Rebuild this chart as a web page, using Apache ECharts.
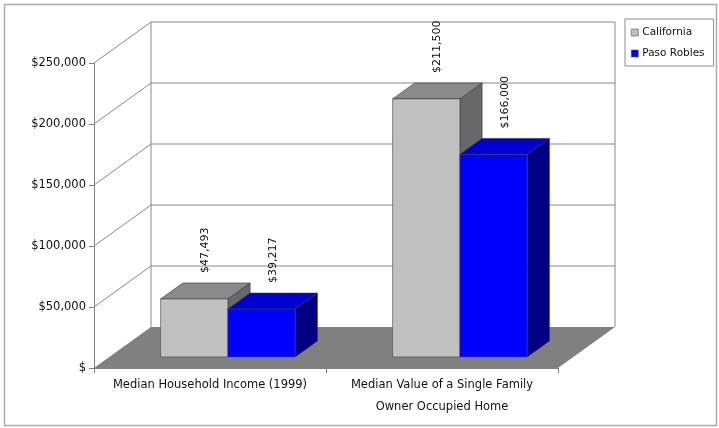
<!DOCTYPE html>
<html>
<head>
<meta charset="utf-8">
<script src="https://cdn.jsdelivr.net/npm/echarts@6/dist/echarts.min.js"></script>
<style>
  html, body { margin: 0; padding: 0; background: #fff; }
  #chart { width: 719px; height: 428px; }
</style>
</head>
<body>
<div id="chart"></div>
<script>
// Categories, series and tick values
const categories = ['Median Household Income (1999)', 'Median Value of a Single Family\nOwner Occupied Home'];
const seriesNames = ['California', 'Paso Robles'];
const california = [47493, 211500];
const pasoRobles = [39217, 166000];
const yTicks = [0, 50000, 100000, 150000, 200000, 250000];

const FONT = 'DejaVu Sans';
// depth of the 3D box (pixels) and the slice of it the columns occupy
const DEPTH = [57, -41];
const BAR_FRONT = 0.27, BAR_BACK = 0.66;
const BAR_FRAC = 0.29;
const BAR_NUDGE = 2.5;

const palette = {
  California: { front: '#c0c0c0', top: '#8a8a8a', side: '#686868' },
  'Paso Robles': { front: '#0000ff', top: '#0000d4', side: '#000080' }
};

function money(v) {
  return v === 0 ? '$' : '$' + v.toLocaleString('en-US');
}

function frameItem(params, api) {
  const cs = params.coordSys;
  const x0 = cs.x, x1 = cs.x + cs.width;
  const y0 = api.coord([0, 0])[1];
  const yTop = api.coord([0, yTicks[yTicks.length - 1]])[1];
  const dx = DEPTH[0], dy = DEPTH[1];
  const line = { stroke: '#888888', lineWidth: 1 };
  const children = [{
    type: 'polygon',
    shape: { points: [[x0, y0], [x1, y0], [x1 + dx, y0 + dy], [x0 + dx, y0 + dy]] },
    style: { fill: '#808080' }
  }];
  yTicks.forEach(t => {
    if (t === 0) return;
    const y = api.coord([0, t])[1];
    children.push({ type: 'line', shape: { x1: x0 + dx, y1: y + dy, x2: x1 + dx, y2: y + dy }, style: line });
    children.push({ type: 'line', shape: { x1: x0, y1: y, x2: x0 + dx, y2: y + dy }, style: line });
  });
  children.push({ type: 'line', shape: { x1: x0 + dx, y1: yTop + dy, x2: x0 + dx, y2: y0 + dy }, style: line });
  children.push({ type: 'line', shape: { x1: x1 + dx, y1: yTop + dy, x2: x1 + dx, y2: y0 + dy }, style: line });
  return { type: 'group', children };
}

function makeBarRenderer(name, side) {
  const col = palette[name];
  return function (params, api) {
    const cat = api.value(0), v = api.value(1);
    const base = api.coord([cat, 0]);
    const top = api.coord([cat, v]);
    const w = api.size([1, 0])[0] * BAR_FRAC;
    const fx = DEPTH[0] * BAR_FRONT, fy = DEPTH[1] * BAR_FRONT;
    const bx = DEPTH[0] * (BAR_BACK - BAR_FRONT), by = DEPTH[1] * (BAR_BACK - BAR_FRONT);
    const xl = base[0] + (side < 0 ? -w : 0) + fx + BAR_NUDGE;
    const xr = xl + w;
    const yb = base[1] + fy;
    const yt = top[1] + fy;
    const edge = { lineWidth: 0.6, lineJoin: 'round' };
    return {
      type: 'group',
      children: [
        { type: 'polygon', shape: { points: [[xr, yb], [xr + bx, yb + by], [xr + bx, yt + by], [xr, yt]] },
          style: Object.assign({ fill: col.side, stroke: '#333' }, edge) },
        { type: 'polygon', shape: { points: [[xl, yt], [xr, yt], [xr + bx, yt + by], [xl + bx, yt + by]] },
          style: Object.assign({ fill: col.top, stroke: '#333' }, edge) },
        { type: 'rect', shape: { x: xl, y: yt, width: w, height: yb - yt },
          style: Object.assign({ fill: col.front, stroke: '#444' }, edge) },
        { type: 'text', x: (xl + xr + bx) / 2, y: yt + by - 10, rotation: Math.PI / 2,
          style: { text: money(v), font: '11px "' + FONT + '"', fill: '#111', align: 'left', verticalAlign: 'middle' } }
      ]
    };
  };
}

const chart = echarts.init(document.getElementById('chart'), null, { renderer: 'canvas' });
chart.setOption({
  animation: false,
  backgroundColor: '#fff',
  textStyle: { fontFamily: FONT },
  graphic: [{
    type: 'rect', shape: { x: 4.5, y: 4.5, width: 712, height: 421 },
    style: { fill: 'none', stroke: '#aaaaaa', lineWidth: 1.5 }, z: -10
  }],
  legend: {
    data: seriesNames.map(n => ({ name: n, itemStyle: { color: palette[n].front, borderColor: '#555', borderWidth: 0.6 } })),
    orient: 'vertical',
    left: 625, top: 19,
    padding: [8, 9, 7, 6],
    itemGap: 10,
    itemWidth: 7, itemHeight: 7,
    icon: 'rect',
    borderColor: '#8c8c8c', borderWidth: 1,
    textStyle: { fontSize: 10.5, color: '#111', fontFamily: FONT, padding: [0, 0, 0, -1] }
  },
  grid: { left: 94, right: 161, top: 63, bottom: 60, containLabel: false },
  xAxis: {
    type: 'category',
    data: categories,
    axisLine: { lineStyle: { color: '#808080' } },
    axisTick: { show: true, length: 5, lineStyle: { color: '#808080' } },
    axisLabel: { color: '#111', fontSize: 11.5, margin: 6, lineHeight: 22, interval: 0 }
  },
  yAxis: {
    type: 'value',
    min: 0, max: 250000, interval: 50000,
    axisLine: { show: true, lineStyle: { color: '#808080' } },
    axisTick: { show: true, length: 5, lineStyle: { color: '#808080' } },
    splitLine: { show: false },
    axisLabel: { color: '#111', fontSize: 11.5, margin: 8, formatter: money }
  },
  series: [
    { type: 'custom', name: 'frame', silent: true, z: 1, renderItem: frameItem, data: [[0, 0]] },
    { type: 'custom', name: 'California', z: 2, itemStyle: { color: palette.California.front },
      renderItem: makeBarRenderer('California', -1),
      data: california.map((v, i) => [i, v]) },
    { type: 'custom', name: 'Paso Robles', z: 3, itemStyle: { color: palette['Paso Robles'].front },
      renderItem: makeBarRenderer('Paso Robles', 1),
      data: pasoRobles.map((v, i) => [i, v]) }
  ]
});
</script>
</body>
</html>
